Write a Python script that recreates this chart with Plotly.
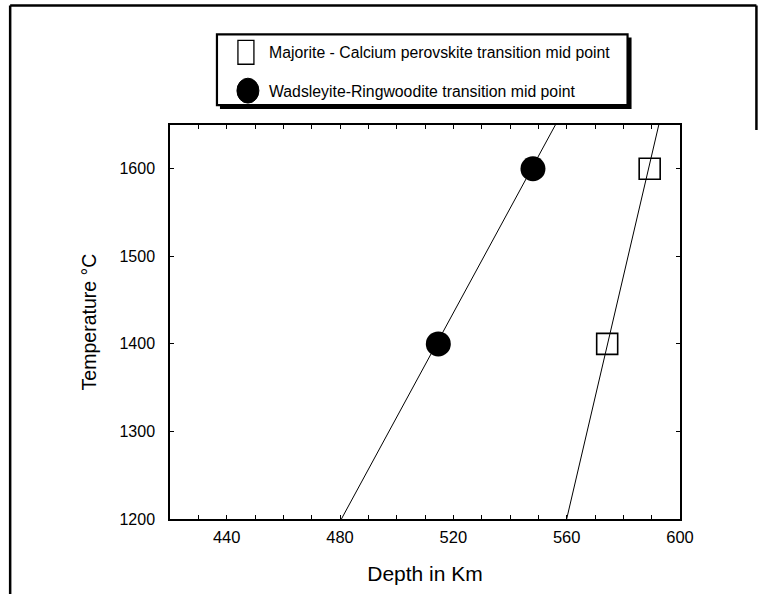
import plotly.graph_objects as go

# ---- data ----
maj_depth = [574.3, 589.3]
maj_temp = [1400, 1600]
wr_depth = [514.7, 548.1]
wr_temp = [1400, 1600]
fit_temp = [1200, 1650]
maj_fit_depth = [560.0, 592.5]
wr_fit_depth = [480.5, 556.0]
x_ticks = [440, 480, 520, 560, 600]
y_ticks = [1200, 1300, 1400, 1500, 1600]
legend_labels = ["Majorite - Calcium perovskite transition mid point",
                 "Wadsleyite-Ringwoodite transition mid point"]

W, H = 766, 594
L, R, T, B = 170, 85.5, 125, 73.3
PW, PH = W - L - R, H - T - B
FONT = "Liberation Sans, Arial, sans-serif"


def px(x):
    return (x - L) / PW


def py(y):
    return (H - B - y) / PH


fig = go.Figure()
fig.add_trace(go.Scatter(x=wr_fit_depth, y=fit_temp, mode="lines",
                         line=dict(color="black", width=1), showlegend=False))
fig.add_trace(go.Scatter(x=maj_fit_depth, y=fit_temp, mode="lines",
                         line=dict(color="black", width=1), showlegend=False))
fig.add_trace(go.Scatter(x=maj_depth, y=maj_temp, mode="markers", name=legend_labels[0],
                         marker=dict(symbol="square-open", size=21, color="black",
                                     line=dict(width=1.6, color="black")),
                         showlegend=False))
fig.add_trace(go.Scatter(x=wr_depth, y=wr_temp, mode="markers", name=legend_labels[1],
                         marker=dict(symbol="circle", size=25, color="black"),
                         showlegend=False))

shapes = []
# outer frame
shapes.append(dict(type="line", xref="paper", yref="paper", x0=px(10), x1=px(757),
                   y0=py(5), y1=py(5), line=dict(color="black", width=2.5)))
shapes.append(dict(type="line", xref="paper", yref="paper", x0=px(10), x1=px(10),
                   y0=py(5), y1=py(600), line=dict(color="black", width=2.5)))
shapes.append(dict(type="line", xref="paper", yref="paper", x0=px(757), x1=px(757),
                   y0=py(5), y1=py(130), line=dict(color="black", width=2.5)))
# legend box with shadow
shapes.append(dict(type="rect", xref="paper", yref="paper", x0=px(220), x1=px(632),
                   y0=py(37), y1=py(109), fillcolor="black", line=dict(width=0)))
shapes.append(dict(type="rect", xref="paper", yref="paper", x0=px(217), x1=px(628),
                   y0=py(34), y1=py(105), fillcolor="white",
                   line=dict(color="black", width=2.2)))
# legend symbols
shapes.append(dict(type="rect", xref="paper", yref="paper", x0=px(238), x1=px(254),
                   y0=py(40), y1=py(64), line=dict(color="black", width=1.3)))
shapes.append(dict(type="circle", xref="paper", yref="paper", x0=px(237), x1=px(259),
                   y0=py(78), y1=py(103), fillcolor="black", line=dict(color="black", width=1)))

annotations = [
    dict(text=legend_labels[0], xref="paper", yref="paper", x=px(267), y=py(52),
         xanchor="left", yanchor="middle", showarrow=False,
         font=dict(family=FONT, size=15.8, color="black")),
    dict(text=legend_labels[1], xref="paper", yref="paper", x=px(267), y=py(91),
         xanchor="left", yanchor="middle", showarrow=False,
         font=dict(family=FONT, size=15.8, color="black")),
]

fig.update_layout(
    width=W, height=H,
    margin=dict(l=L, r=R, t=T, b=B, pad=0),
    paper_bgcolor="white", plot_bgcolor="white",
    shapes=shapes, annotations=annotations,
    showlegend=False,
    font=dict(family=FONT, color="black"),
)
fig.update_xaxes(range=[420, 600], tickvals=x_ticks, ticks="inside", ticklen=4,
                 tickcolor="black", showline=True, linecolor="black", linewidth=1.5,
                 mirror="ticks", showgrid=False, zeroline=False,
                 minor=dict(dtick=10, tick0=420, ticks="inside", ticklen=4, tickcolor="black",
                            showgrid=False),
                 tickfont=dict(family=FONT, size=16.5), ticklabelstandoff=2,
                 title=dict(text="Depth in Km", font=dict(family=FONT, size=21), standoff=22))
fig.update_yaxes(range=[1200, 1650], tickvals=y_ticks, ticks="inside", ticklen=4,
                 tickcolor="black", showline=True, linecolor="black", linewidth=1.5,
                 mirror="ticks", showgrid=False, zeroline=False,
                 tickfont=dict(family=FONT, size=16), ticklabelstandoff=10,
                 title=dict(text="Temperature °C", font=dict(family=FONT, size=19.5), standoff=18))

fig.write_html("out.html")
